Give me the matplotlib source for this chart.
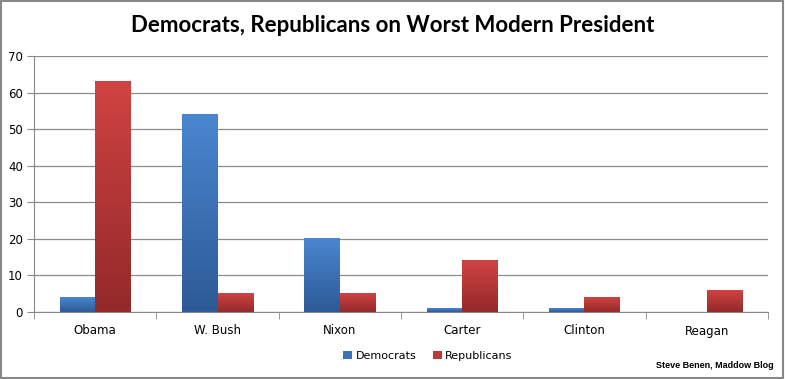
import matplotlib.pyplot as plt
import numpy as np
from matplotlib.colors import LinearSegmentedColormap
from matplotlib.patches import Rectangle, Patch

plt.rcParams['font.family'] = ['DejaVu Sans']

# Données
presidents = ['Obama', 'W. Bush', 'Nixon', 'Carter', 'Clinton', 'Reagan']
democrats = [4, 54, 20, 1, 1, 0]
republicans = [63, 5, 5, 14, 4, 6]
yticks = [0, 10, 20, 30, 40, 50, 60, 70]

fig = plt.figure(figsize=(7.85, 3.79), dpi=100)
ax = fig.add_axes([34 / 785, 1 - 312 / 379, 734 / 785, 256 / 379])

# Dégradés façon Excel
blue_cmap = LinearSegmentedColormap.from_list('b', ['#2d5a96', '#4a86d0'])
red_cmap = LinearSegmentedColormap.from_list('r', ['#93292a', '#d04342'])

x = np.arange(len(presidents))
w = 0.29
grad = np.linspace(0, 1, 256).reshape(-1, 1)


def gradient_bars(xs, vals, cmap):
    for xi, v in zip(xs, vals):
        if v <= 0:
            continue
        ax.imshow(grad, cmap=cmap, origin='lower', aspect='auto',
                  extent=[xi - w / 2, xi + w / 2, 0, v], zorder=2)


gradient_bars(x - w / 2, democrats, blue_cmap)
gradient_bars(x + w / 2, republicans, red_cmap)

ax.set_xlim(-0.5, len(presidents) - 0.5)
ax.set_ylim(0, 70)
ax.set_yticks(yticks)
ax.set_yticklabels([str(t) for t in yticks], fontsize=8.5)
ax.set_xticks(x)
ax.set_xticklabels(presidents, fontsize=8.5)
ax.tick_params(axis='x', length=0, pad=9)
ax.set_xticks(np.arange(-0.5, len(presidents)), minor=True)
ax.tick_params(axis='x', which='minor', length=5, color='#888888', direction='out')
ax.tick_params(axis='y', length=5, color='#888888', direction='out', pad=3)

ax.grid(axis='y', color='#8c8c8c', linewidth=0.9, zorder=0)
ax.set_axisbelow(True)
for s in ['top', 'right']:
    ax.spines[s].set_visible(False)
for s in ['left', 'bottom']:
    ax.spines[s].set_color('#888888')

# Titre
fig.text(0.5, 1 - 25 / 379, 'Democrats, Republicans on Worst Modern President',
         ha='center', va='center', fontsize=16, fontweight='bold', family='Lato')

# Légende
handles = [Patch(facecolor='#3a72bc', label='Democrats'),
           Patch(facecolor='#be3838', label='Republicans')]
fig.legend(handles=handles, loc='center', bbox_to_anchor=(428 / 785, 1 - 356 / 379),
           ncol=2, frameon=False, fontsize=8, handlelength=0.8, handleheight=0.8,
           handletextpad=0.3, columnspacing=1.5)

fig.text(774 / 785, 1 - 366 / 379, 'Steve Benen, Maddow Blog', ha='right', va='center',
         fontsize=6.5, fontweight='bold', family='Liberation Sans')

# Cadre extérieur
fig.patches.append(Rectangle((0.001, 0.002), 0.997, 0.996, transform=fig.transFigure,
                             fill=False, edgecolor='#888888', linewidth=1.5))

plt.savefig('out.png', dpi=100)
